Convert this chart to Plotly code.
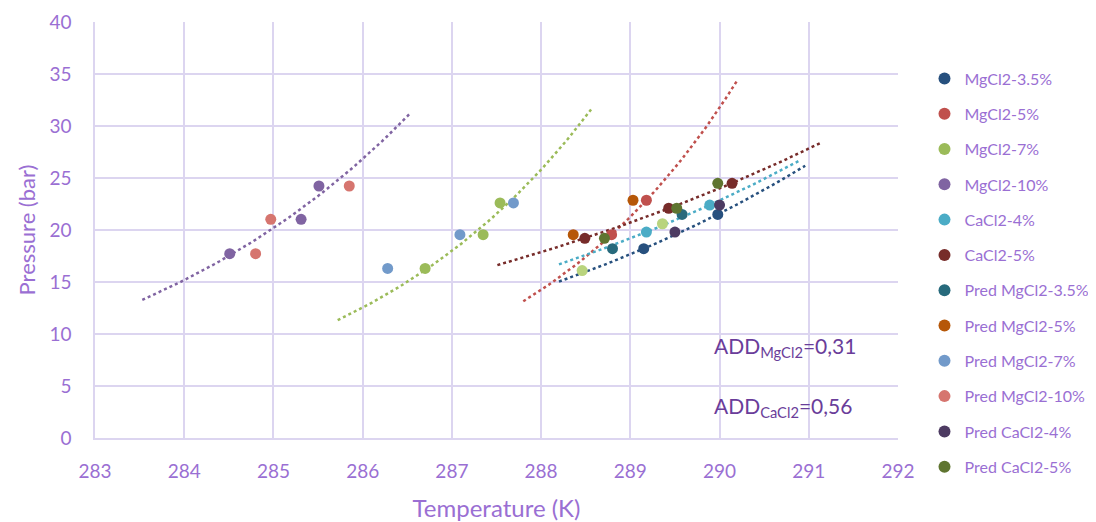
import numpy as np
import plotly.graph_objects as go

# ---- data ----
series_names = ["MgCl2-3.5%", "MgCl2-5%", "MgCl2-7%", "MgCl2-10%", "CaCl2-4%", "CaCl2-5%",
                "Pred MgCl2-3.5%", "Pred MgCl2-5%", "Pred MgCl2-7%", "Pred MgCl2-10%",
                "Pred CaCl2-4%", "Pred CaCl2-5%"]

mgcl2_35_T = [289.15, 289.98]
mgcl2_35_P = [18.2, 21.5]
mgcl2_5_T = [288.79, 289.18]
mgcl2_5_P = [19.55, 22.86]
mgcl2_7_T = [286.70, 287.35, 287.54]
mgcl2_7_P = [16.3, 19.55, 22.6]
mgcl2_10_T = [284.51, 285.31, 285.51]
mgcl2_10_P = [17.72, 21.03, 24.23]
cacl2_4_T = [289.18, 289.89]
cacl2_4_P = [19.8, 22.4]
cacl2_5_T = [288.49, 289.43, 290.14]
cacl2_5_P = [19.2, 22.09, 24.49]

pred_mgcl2_35_T = [288.80, 289.58]
pred_mgcl2_35_P = [18.2, 21.5]
pred_mgcl2_5_T = [288.36, 289.03]
pred_mgcl2_5_P = [19.55, 22.86]
pred_mgcl2_7_T = [286.28, 287.09, 287.69]
pred_mgcl2_7_P = [16.3, 19.55, 22.6]
pred_mgcl2_10_T = [284.80, 284.97, 285.85]
pred_mgcl2_10_P = [17.72, 21.03, 24.23]
pred_cacl2_4_T = [289.50, 290.00]
pred_cacl2_4_P = [19.8, 22.4]
pred_cacl2_5_T = [288.71, 289.52, 289.98]
pred_cacl2_5_P = [19.2, 22.09, 24.49]

# extra light-green points (not in legend)
extra_T = [288.46, 289.36]
extra_P = [16.1, 20.6]

# exponential trendline ranges (T from, T to) for experimental series
trend_from = [288.20, 287.80, 285.72, 283.53, 288.20, 287.51]
trend_to = [290.96, 290.19, 288.56, 286.52, 290.90, 291.15]

colors = ["#27507E", "#C0504D", "#9BBB59", "#8064A2", "#4BACC6", "#772C2A",
          "#276A7C", "#B65708", "#729ACA", "#D6756F", "#4D3B62", "#5F7530"]
extra_color = "#B9D47E"

x_ticks = [283, 284, 285, 286, 287, 288, 289, 290, 291, 292]
y_ticks = [0, 5, 10, 15, 20, 25, 30, 35, 40]

exp_T = [mgcl2_35_T, mgcl2_5_T, mgcl2_7_T, mgcl2_10_T, cacl2_4_T, cacl2_5_T]
exp_P = [mgcl2_35_P, mgcl2_5_P, mgcl2_7_P, mgcl2_10_P, cacl2_4_P, cacl2_5_P]
pred_T = [pred_mgcl2_35_T, pred_mgcl2_5_T, pred_mgcl2_7_T, pred_mgcl2_10_T, pred_cacl2_4_T, pred_cacl2_5_T]
pred_P = [pred_mgcl2_35_P, pred_mgcl2_5_P, pred_mgcl2_7_P, pred_mgcl2_10_P, pred_cacl2_4_P, pred_cacl2_5_P]

all_T = exp_T + pred_T
all_P = exp_P + pred_P

text_color = "#9A6FD3"
grid_color = "#DCD5F0"
FONT = "Lato, 'Open Sans', sans-serif"

fig = go.Figure()

# trendlines (exponential fit of the experimental series)
for i in range(6):
    t = np.array(exp_T[i])
    lp = np.log(np.array(exp_P[i]))
    b, a = np.polyfit(t, lp, 1)
    tt = np.linspace(trend_from[i], trend_to[i], 60)
    fig.add_trace(go.Scatter(x=tt, y=np.exp(a + b * tt), mode="lines",
                             line=dict(color=colors[i], width=2.5, dash="dot"),
                             showlegend=False, hoverinfo="skip"))

fig.add_trace(go.Scatter(x=extra_T, y=extra_P, mode="markers",
                         marker=dict(color=extra_color, size=11),
                         showlegend=False))

for i, name in enumerate(series_names):
    fig.add_trace(go.Scatter(x=all_T[i], y=all_P[i], mode="markers", name=name,
                             legendgroup=name,
                             marker=dict(color=colors[i], size=11)))

fig.add_annotation(x=289.92, y=8.75, xref="x", yref="y", xanchor="left", yanchor="middle",
                   text="ADD<sub>MgCl2</sub>=0,31", showarrow=False,
                   font=dict(family=FONT, size=21, color="#6A3D9A"))
fig.add_annotation(x=289.92, y=2.98, xref="x", yref="y", xanchor="left", yanchor="middle",
                   text="ADD<sub>CaCl2</sub>=0,56", showarrow=False,
                   font=dict(family=FONT, size=21, color="#6A3D9A"))

fig.update_layout(
    width=1096, height=522,
    margin=dict(l=87, r=206, t=14, b=92, autoexpand=False),
    paper_bgcolor="white", plot_bgcolor="white",
    font=dict(family=FONT, color=text_color),
    legend=dict(x=1.033, y=0.905, xanchor="left", yanchor="top",
                font=dict(family=FONT, size=16, color=text_color),
                tracegroupgap=11.5, itemsizing="constant", maxheight=1.0),
    xaxis=dict(range=[283, 292], tickvals=x_ticks, showgrid=True, gridcolor=grid_color,
               gridwidth=1.5, zeroline=False, showline=True, linecolor=grid_color, linewidth=1.5,
               ticks="outside", ticklen=15, tickcolor="rgba(0,0,0,0)", automargin=False,
               tickfont=dict(family=FONT, size=19, color=text_color),
               title=dict(text="Temperature (K)", standoff=20,
                          font=dict(family=FONT, size=24, color=text_color))),
    yaxis=dict(range=[0, 40], tickvals=y_ticks, showgrid=True, gridcolor=grid_color,
               gridwidth=1.5, zeroline=False, showline=True, linecolor=grid_color, linewidth=1.5,
               ticks="outside", ticklen=18, tickcolor="rgba(0,0,0,0)", automargin=False,
               tickfont=dict(family=FONT, size=19, color=text_color),
               title=dict(text="Pressure (bar)", standoff=8,
                          font=dict(family=FONT, size=22, color=text_color))),
)

fig.write_html("out.html")
